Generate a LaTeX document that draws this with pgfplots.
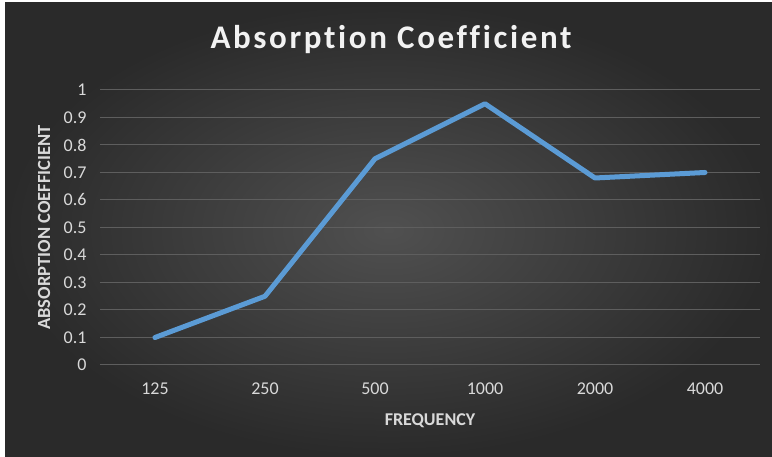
\documentclass[border=0pt]{standalone}
\usepackage{pgfplots}
\pgfplotsset{compat=1.18}
\usepackage{fontspec}
\setmainfont{Carlito}
\newfontfamily\titlefont[LetterSpace=8, Ligatures={NoCommon}]{Carlito}
\definecolor{bgin}{HTML}{505050}
\definecolor{bgout}{HTML}{2A2A2A}
\definecolor{gridc}{HTML}{5E5E5E}
\definecolor{tickc}{HTML}{D9D9D9}
\definecolor{linec}{HTML}{5B9BD5}
\begin{document}
\begin{tikzpicture}[x=1bp,y=1bp]
\useasboundingbox (0,0) rectangle (772,457);
\fill[white] (0,0) rectangle (772,457);
\shade[inner color=bgin, outer color=bgout] (5,0) rectangle (772,454);
\begin{axis}[
  at={(100bp,92bp)}, anchor=south west,
  scale only axis, width=660bp, height=275bp,
  xmin=-0.5, xmax=5.5, ymin=0, ymax=1,
  axis line style={draw=none},
  major tick length=0pt,
  xtick={0,1,2,3,4,5},
  xticklabels={125,250,500,1000,2000,4000},
  ytick={0,0.1,0.2,0.3,0.4,0.5,0.6,0.7,0.8,0.9,1},
  yticklabels={0,0.1,0.2,0.3,0.4,0.5,0.6,0.7,0.8,0.9,1},
  ymajorgrids,
  grid style={gridc, line width=1bp},
  ticklabel style={font=\fontsize{18bp}{20bp}\selectfont, text=tickc},
  yticklabel style={anchor=east, xshift=-10bp},
  xticklabel style={anchor=center, yshift=-24bp},
  title={\titlefont\bfseries Absorption Coefficient},
  title style={at={(axis description cs:0.5,1)}, anchor=center, xshift=-39bp, yshift=44bp,
    font=\fontsize{33bp}{37bp}\selectfont, text=white!95!black},
  xlabel={FREQUENCY},
  xlabel style={at={(axis description cs:0.5,0)}, anchor=center, yshift=-56bp,
    font=\bfseries\fontsize{18bp}{20bp}\selectfont, text=tickc},
  ylabel={ABSORPTION COEFFICIENT},
  ylabel style={at={(axis description cs:0,0.5)}, anchor=center, yshift=56bp,
    font=\bfseries\fontsize{18.5bp}{20bp}\selectfont, text=tickc},
]
\addplot[linec, line width=5bp, line join=round, line cap=round] coordinates {
  (0,0.10) (1,0.25) (2,0.75) (3,0.95) (4,0.68) (5,0.70)
};
\end{axis}
\end{tikzpicture}
\end{document}
